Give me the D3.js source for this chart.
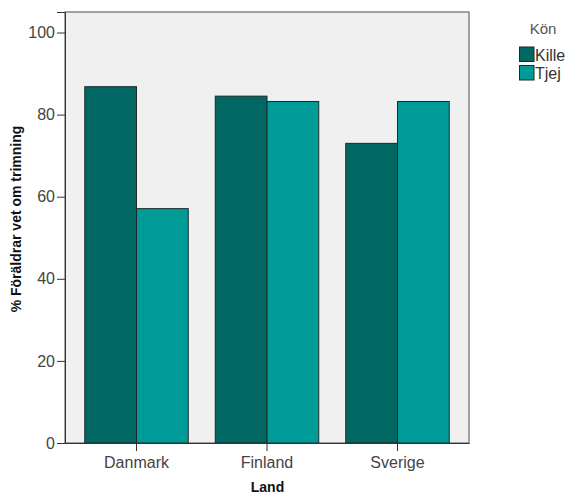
<!DOCTYPE html>
<html><head><meta charset="utf-8">
<script src="https://cdn.jsdelivr.net/npm/d3@7"></script>
<style>body{margin:0;background:#fff}svg{display:block}text{font-family:"Liberation Sans",Arial,sans-serif}</style>
</head><body><svg id="c" width="569" height="495"></svg>
<script>
const categories = ["Danmark", "Finland", "Sverige"];
const seriesNames = ["Kille", "Tjej"];
const kille = [86.8, 84.5, 73.0];
const tjej = [57.1, 83.2, 83.2];
const yTicks = [0, 20, 40, 60, 80, 100];
const colors = ["#006762", "#009b97"];
const series = [kille, tjej];

const svg = d3.select("#c");
const L = 65, R = 469, T = 12, B = 443;
const y = d3.scaleLinear().domain([0, 105]).range([B, T]);
const x0 = d3.scaleBand().domain(categories).range([L, R]).paddingInner(0.207).paddingOuter(0.1515);
const x1 = d3.scaleBand().domain(seriesNames).range([0, x0.bandwidth()]);

svg.append("rect").attr("x", L).attr("y", T).attr("width", R - L).attr("height", B - T)
  .attr("fill", "#f0f0f0").attr("stroke", "#6b6b6b").attr("stroke-width", 1.2);

const g = svg.append("g");
categories.forEach((c, i) => {
  seriesNames.forEach((s, j) => {
    const v = series[j][i];
    g.append("rect").attr("x", x0(c) + x1(s)).attr("y", y(v))
      .attr("width", x1.bandwidth()).attr("height", y(0) - y(v))
      .attr("fill", colors[j]).attr("stroke", "#1e2a2a").attr("stroke-width", 1);
  });
});

const ya = svg.append("g").attr("transform", `translate(${L},0)`)
  .call(d3.axisLeft(y).tickValues(yTicks).tickSize(8).tickPadding(2).tickFormat(d3.format("d")));
ya.select(".domain").attr("stroke", "#333");
ya.selectAll(".tick line").attr("stroke", "#333");
ya.selectAll(".tick text").attr("font-size", 16).attr("fill", "#444").attr("font-family", "Liberation Sans, Arial, sans-serif");

const xa = svg.append("g").attr("transform", `translate(0,${B})`)
  .call(d3.axisBottom(x0).tickSize(8).tickPadding(6).tickSizeOuter(0));
xa.select(".domain").attr("stroke", "#333");
xa.selectAll(".tick line").attr("stroke", "#333");
xa.selectAll(".tick text").attr("font-size", 16).attr("fill", "#444").attr("font-family", "Liberation Sans, Arial, sans-serif");

svg.append("text").attr("x", (L + R) / 2 + 0.5).attr("y", 492).attr("text-anchor", "middle")
  .attr("font-size", 14).attr("font-weight", "bold").attr("fill", "#111").text("Land");
svg.append("text").attr("transform", "translate(21,219) rotate(-90)").attr("text-anchor", "middle")
  .attr("font-size", 14).attr("font-weight", "bold").attr("fill", "#111").text("% Föräldrar vet om trimning");

svg.append("text").attr("x", 543).attr("y", 34).attr("text-anchor", "middle")
  .attr("font-size", 15).attr("fill", "#555").text("Kön");
seriesNames.forEach((s, j) => {
  const yy = 47 + j * 18.5;
  svg.append("rect").attr("x", 519.5).attr("y", yy).attr("width", 14.5).attr("height", 14.5)
    .attr("fill", colors[j]).attr("stroke", "#1e2a2a").attr("stroke-width", 1);
  svg.append("text").attr("x", 535).attr("y", yy + 13.5).attr("font-size", 16).attr("fill", "#333").text(s);
});
</script></body></html>
